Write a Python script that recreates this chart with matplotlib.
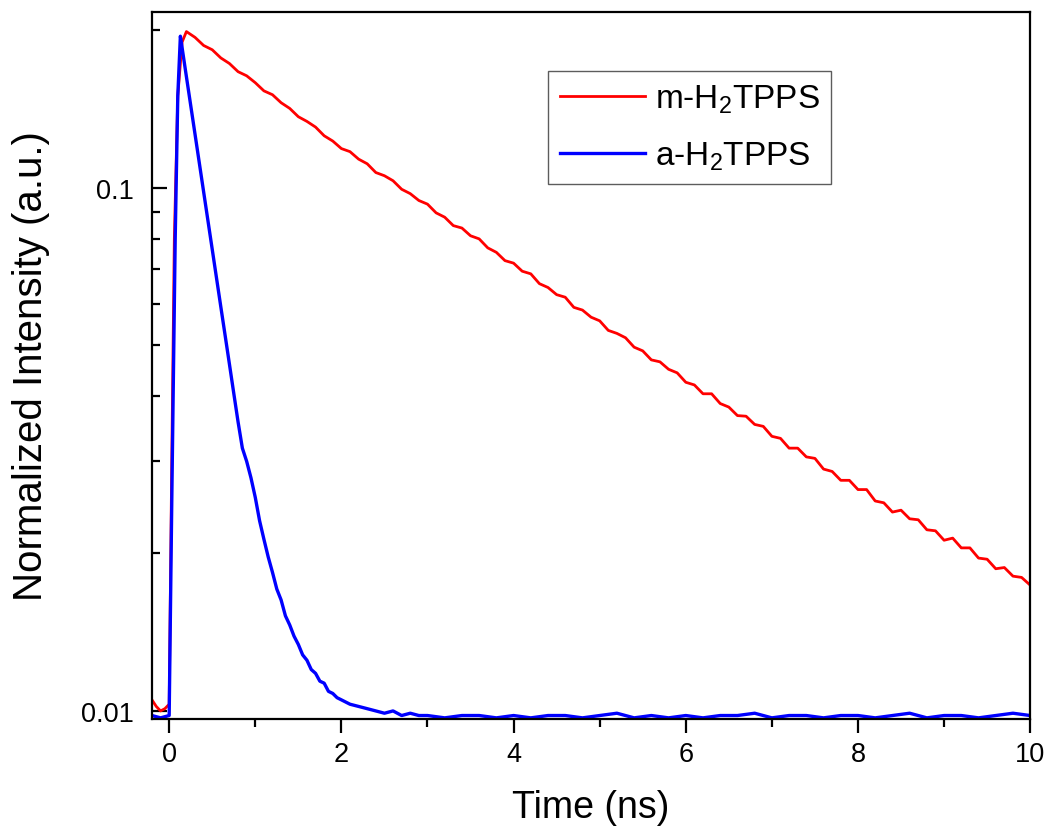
import matplotlib
matplotlib.use("Agg")
import matplotlib.pyplot as plt
from matplotlib.ticker import LogLocator, NullFormatter, FixedLocator

plt.rcParams["font.family"] = ["Liberation Sans", "DejaVu Sans"]
plt.rcParams["mathtext.default"] = "regular"

# m-H2TPPS decay (time in ns, normalized intensity)
red_t = [
    -0.2, -0.15, -0.1, -0.05, 0.0, 0.03, 0.06, 0.1, 0.15,
    0.2, 0.3, 0.4, 0.5, 0.6, 0.7, 0.8, 0.9, 1.0, 1.1, 1.2, 1.3, 1.4, 1.5, 1.6, 1.7, 1.8, 1.9,
    2.0, 2.1, 2.2, 2.3, 2.4, 2.5, 2.6, 2.7, 2.8, 2.9, 3.0, 3.1, 3.2, 3.3, 3.4, 3.5, 3.6, 3.7, 3.8, 3.9,
    4.0, 4.1, 4.2, 4.3, 4.4, 4.5, 4.6, 4.7, 4.8, 4.9, 5.0, 5.1, 5.2, 5.3, 5.4, 5.5, 5.6, 5.7, 5.8, 5.9,
    6.0, 6.1, 6.2, 6.3, 6.4, 6.5, 6.6, 6.7, 6.8, 6.9, 7.0, 7.1, 7.2, 7.3, 7.4, 7.5, 7.6, 7.7, 7.8, 7.9,
    8.0, 8.1, 8.2, 8.3, 8.4, 8.5, 8.6, 8.7, 8.8, 8.9, 9.0, 9.1, 9.2, 9.3, 9.4, 9.5, 9.6, 9.7, 9.8, 9.9,
    10.0,
]
red_y = [
    0.0105, 0.0102, 0.0100, 0.0101, 0.0103, 0.030, 0.080, 0.150, 0.190,
    0.199, 0.1940, 0.1872, 0.1837, 0.1772, 0.1729, 0.1668, 0.1638, 0.1589, 0.1533, 0.1507, 0.1455, 0.1419, 0.1368, 0.1340, 0.1307, 0.1258, 0.1229,
    0.1189, 0.1173, 0.1135, 0.1112, 0.1070, 0.1055, 0.1032, 0.0994, 0.0975, 0.0946, 0.0931, 0.0896, 0.0879, 0.0847, 0.0838, 0.0810, 0.0799, 0.0768, 0.0753, 0.0726,
    0.0718, 0.0693, 0.0685, 0.0656, 0.0645, 0.0625, 0.0618, 0.0591, 0.0584, 0.0566, 0.0557, 0.0534, 0.0527, 0.0517, 0.0496, 0.0488, 0.0469, 0.0465, 0.0450, 0.0443,
    0.0425, 0.0420, 0.0404, 0.0404, 0.0387, 0.0381, 0.0367, 0.0366, 0.0353, 0.0350, 0.0335, 0.0332, 0.0318, 0.0318, 0.0306, 0.0304, 0.0290, 0.0287, 0.0276, 0.0276,
    0.0265, 0.0265, 0.0252, 0.0250, 0.0240, 0.0242, 0.0233, 0.0232, 0.0222, 0.0221, 0.0212, 0.0214, 0.0205, 0.0205, 0.0196, 0.0195, 0.0187, 0.0188, 0.0181, 0.0180,
    0.0174,
]

# a-H2TPPS decay
blue_t = [
    -0.2, -0.1, 0.0, 0.03, 0.07, 0.1, 0.13, 0.15,
    0.2, 0.25, 0.3, 0.35, 0.4, 0.45, 0.5, 0.55, 0.6, 0.65, 0.7, 0.75, 0.8, 0.85, 0.9, 0.95,
    1.0, 1.05, 1.1, 1.15, 1.2, 1.25, 1.3, 1.35, 1.4, 1.45, 1.5, 1.55, 1.6, 1.65, 1.7, 1.75,
    1.8, 1.85, 1.9, 1.95, 2.0, 2.1, 2.2, 2.3, 2.4, 2.5, 2.6, 2.7, 2.8, 2.9,
    3.0, 3.2, 3.4, 3.6, 3.8, 4.0, 4.2, 4.4, 4.6, 4.8, 5.0, 5.2, 5.4, 5.6, 5.8,
    6.0, 6.2, 6.4, 6.6, 6.8, 7.0, 7.2, 7.4, 7.6, 7.8, 8.0, 8.2, 8.4, 8.6, 8.8,
    9.0, 9.2, 9.4, 9.6, 9.8, 10.0,
]
blue_y = [
    0.0098, 0.0097, 0.0098, 0.025, 0.080, 0.150, 0.195, 0.1854,
    0.1632, 0.1438, 0.1267, 0.1116, 0.0983, 0.0866, 0.0763, 0.0672, 0.0592, 0.0522, 0.0460, 0.0405, 0.0357, 0.0318, 0.0300, 0.0279,
    0.0256, 0.0231, 0.0213, 0.0197, 0.0184, 0.0171, 0.0163, 0.0152, 0.0146, 0.0139, 0.0134, 0.0128, 0.0125, 0.0120, 0.0118, 0.0114,
    0.0113, 0.0109, 0.0108, 0.0106, 0.0105, 0.0103, 0.0102, 0.0101, 0.0100, 0.0099, 0.0100, 0.0098, 0.0099, 0.0098,
    0.0098, 0.0097, 0.0098, 0.0098, 0.0097, 0.0098, 0.0097, 0.0098, 0.0098, 0.0097, 0.0098, 0.0099, 0.0097, 0.0098, 0.0097,
    0.0098, 0.0097, 0.0098, 0.0098, 0.0099, 0.0097, 0.0098, 0.0098, 0.0097, 0.0098, 0.0098, 0.0097, 0.0098, 0.0099, 0.0097,
    0.0098, 0.0098, 0.0097, 0.0098, 0.0099, 0.0098,
]

labels = ["m-H$_2$TPPS", "a-H$_2$TPPS"]

fig = plt.figure(figsize=(10.48, 8.28), dpi=100)
ax = fig.add_axes([0.145, 0.1304, 0.838, 0.854])

ax.plot(red_t, red_y, color="#ff0000", lw=2.0, label=labels[0])
ax.plot(blue_t, blue_y, color="#0000ff", lw=2.4, label=labels[1])

ax.set_yscale("log")
ax.set_xlim(-0.2, 10)
ax.set_ylim(0.00965, 0.217)

ax.yaxis.set_major_locator(FixedLocator([0.01, 0.1]))
ax.set_yticklabels(["0.01", "0.1"])
ax.yaxis.set_minor_locator(LogLocator(base=10, subs=range(2, 10)))
ax.yaxis.set_minor_formatter(NullFormatter())
ax.set_xticks([0, 2, 4, 6, 8, 10])
ax.set_xticks([1, 3, 5, 7, 9], minor=True)

for s in ax.spines.values():
    s.set_linewidth(1.6)

ax.tick_params(axis="y", which="both", direction="in", right=False, width=1.6, labelsize=19.5, pad=13)
ax.tick_params(axis="y", which="major", length=11)
ax.tick_params(axis="y", which="minor", length=6)
ax.tick_params(axis="x", which="both", direction="out", top=False, width=1.6, labelsize=19.5, pad=6)
ax.tick_params(axis="x", which="major", length=10)
ax.tick_params(axis="x", which="minor", length=5.5)

ax.set_xlabel("Time (ns)", fontsize=27)
ax.set_ylabel("Normalized Intensity (a.u.)", fontsize=29)
ax.xaxis.set_label_coords(0.5, -0.099)
ax.yaxis.set_label_coords(-0.116, 0.5)

leg = ax.legend(loc="upper left", bbox_to_anchor=(0.451, 0.9166), fontsize=24,
                frameon=True, fancybox=False, edgecolor="#333333", borderaxespad=0,
                handlelength=2.55, handletextpad=0.3, labelspacing=0.75, borderpad=0.35)
leg.get_frame().set_linewidth(1.0)

fig.savefig("out.png", dpi=100)
